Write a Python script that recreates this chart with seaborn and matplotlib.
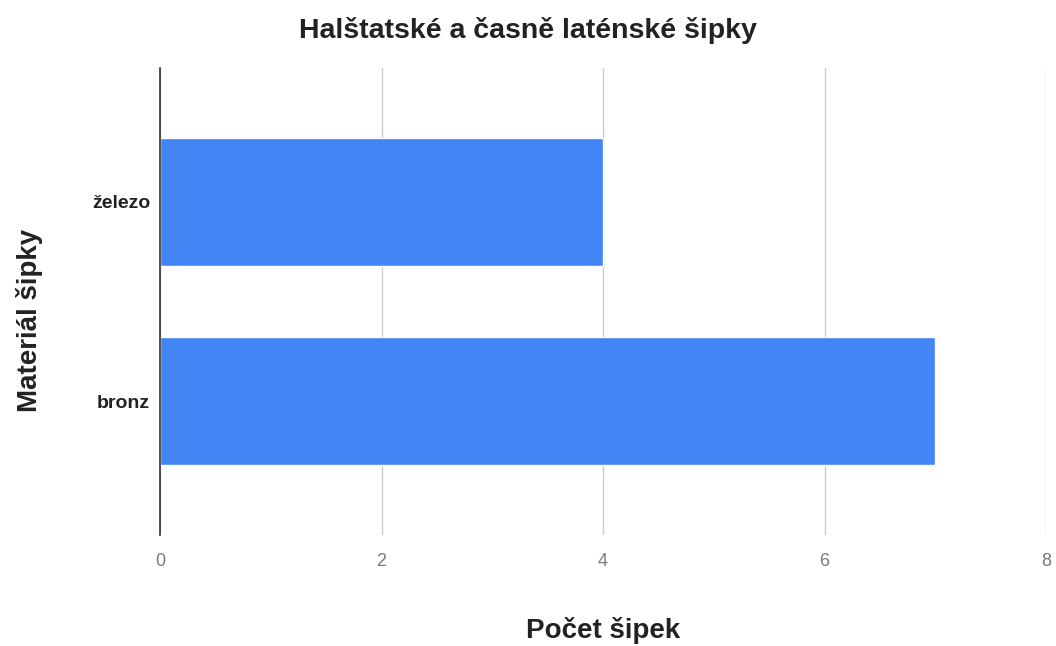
import matplotlib
matplotlib.use("Agg")
import matplotlib.pyplot as plt
import seaborn as sns
import pandas as pd

categories = ["železo", "bronz"]
values = [4, 7]
x_ticks = [0, 2, 4, 6, 8]

sns.set_theme(style="white")
plt.rcParams['font.family'] = ['Liberation Sans', 'DejaVu Sans']

df = pd.DataFrame({"Materiál šipky": categories, "Počet šipek": values})

fig = plt.figure(figsize=(10.56, 6.46), dpi=100)
ax = fig.add_axes([160/1056, 1-535/646, (1046-160)/1056, (535-68)/646])

sns.barplot(data=df, y="Materiál šipky", x="Počet šipek", order=categories,
            color="#4285F4", saturation=1, width=0.64, ax=ax, zorder=3)

ax.set_xlim(0, 8)
ax.set_ylim(1.673, -0.673)
ax.set_xticks(x_ticks)
ax.set_xticklabels([str(t) for t in x_ticks], color="#7a7a7a", fontsize=13)
for lab in ax.get_yticklabels():
    lab.set_fontweight("bold")
    lab.set_fontsize(14)
    lab.set_color("#222222")
ax.tick_params(axis="y", length=0, pad=7)
ax.tick_params(axis="x", length=0, pad=13)

ax.grid(axis="x", color="#cccccc", linewidth=1, zorder=0)
ax.grid(axis="y", visible=False)
for s in ["top", "right", "bottom"]:
    ax.spines[s].set_visible(False)
ax.spines["left"].set_color("#333333")
ax.spines["left"].set_linewidth(1.2)
ax.spines["left"].set_zorder(4)

ax.set_xlabel("Počet šipek", fontsize=20, fontweight="bold", color="#222222", va="center")
ax.xaxis.set_label_coords((603-160)/886, (535-630)/467)
ax.set_ylabel("Materiál šipky", fontsize=20, fontweight="bold", color="#222222", va="center")
ax.yaxis.set_label_coords((30-160)/886, (535-320)/467)
fig.text(528/1056, 1-30/646, "Halštatské a časně laténské šipky", ha="center", va="center",
         fontsize=20.5, fontweight="bold", color="#222222")

fig.savefig("out.png", dpi=100)
